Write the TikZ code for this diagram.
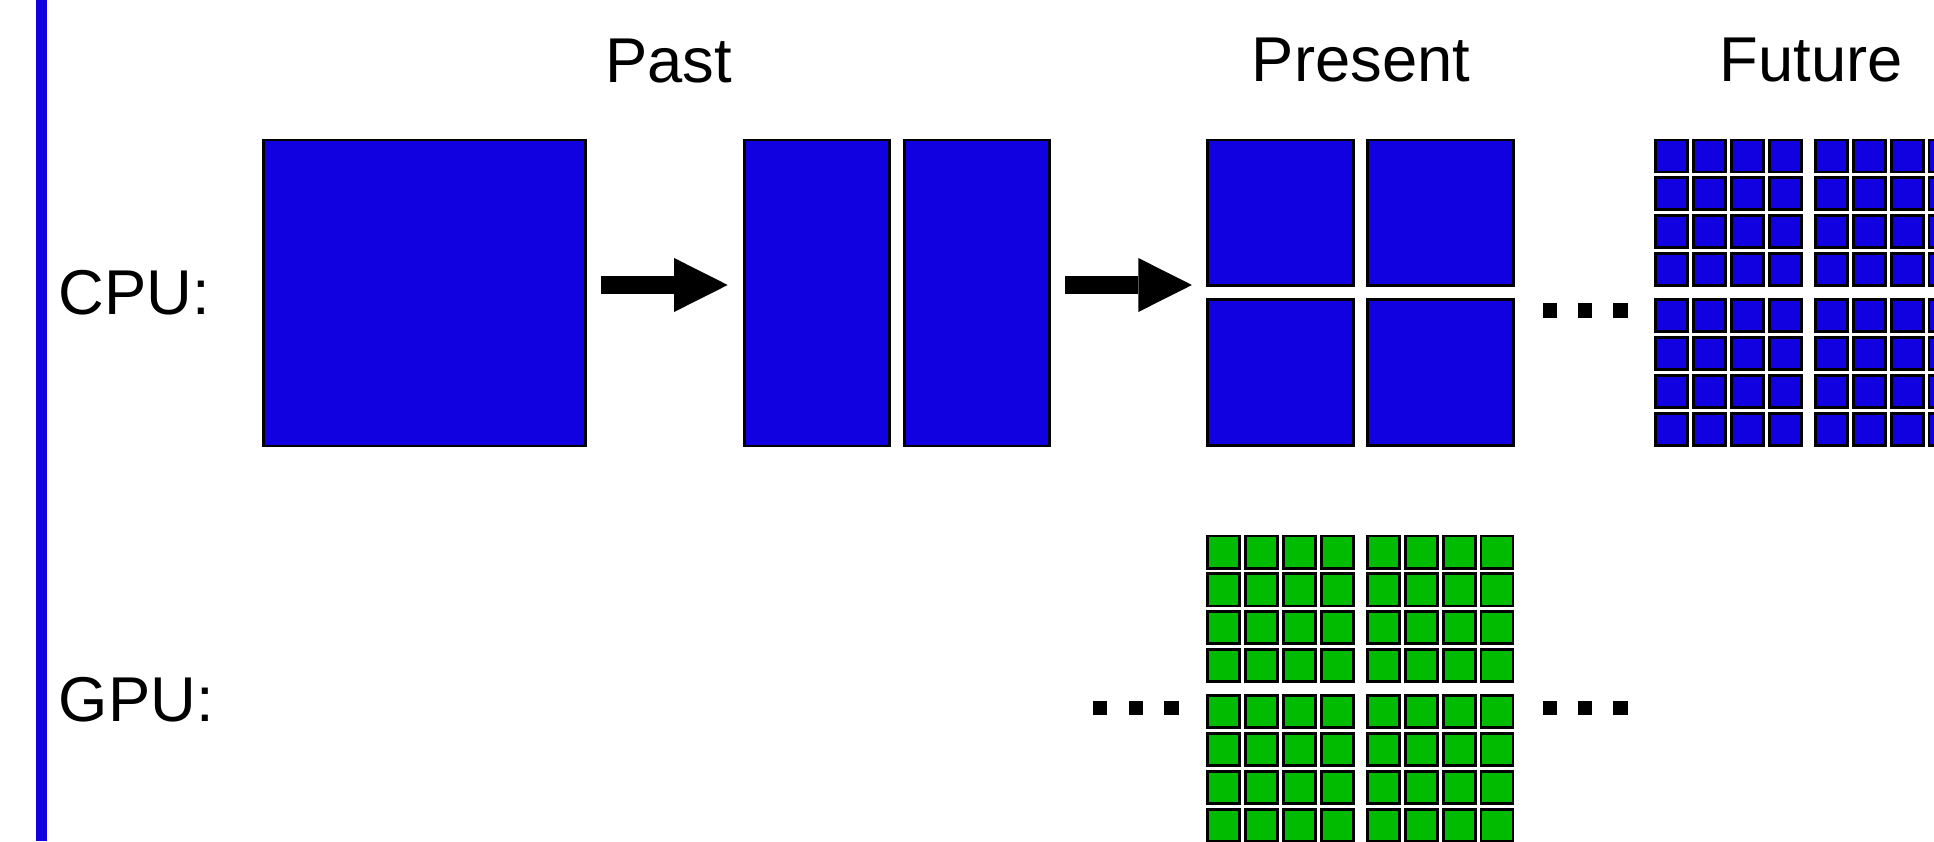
\documentclass[tikz,border=0pt]{standalone}
\usepackage{fontspec}
\setmainfont{Liberation Sans}
\usetikzlibrary{arrows.meta}
\definecolor{cpublue}{RGB}{17,0,224}
\definecolor{gpugreen}{RGB}{0,187,0}
\tikzset{
  core/.style={draw=black, line width=0.65pt, inner sep=0pt, outer sep=0pt, anchor=north west},
  cpucore/.style={core, fill=cpublue},
  gpucore/.style={core, fill=gpugreen},
  lbl/.style={font=\fontsize{14.6}{17}\selectfont, inner sep=0pt, anchor=base},
  dotsq/.style={fill=black, inner sep=0pt, outer sep=0pt, minimum size=0.115cm, anchor=north west},
  blockarrow/.style={line width=0.146cm, -{Triangle[length=4.34mm, width=4.37mm, line width=0pt]}},
}
\begin{document}
\begin{tikzpicture}[x=0.01cm, y=-0.01cm]
\useasboundingbox (0,0) rectangle (1568,682);
% left accent bar
\fill[cpublue] (29,0) rectangle (38,682);
% labels
\node[lbl] (past) at (542,66.5) {Past};
\node[lbl] (present) at (1103.5,66) {Present};
\node[lbl] (future) at (1468.6,66) {Future};
\node[lbl, anchor=base west] (cpu) at (47,255) {CPU:};
\node[lbl, anchor=base west] (gpu) at (47,585) {GPU:};
% single core
\node[cpucore, minimum width=2.61cm, minimum height=2.48cm] (single) at (213.7,113.5) {};
% dual core
\node[cpucore, minimum width=1.175cm, minimum height=2.48cm] (dualA) at (603.3,113.5) {};
\node[cpucore, minimum width=1.175cm, minimum height=2.48cm] (dualB) at (733,113.5) {};
% quad core
\node[cpucore, minimum size=1.18cm] (quadA) at (979.2,113.5) {};
\node[cpucore, minimum size=1.18cm] (quadB) at (1108.7,113.5) {};
\node[cpucore, minimum size=1.18cm] (quadC) at (979.2,243) {};
\node[cpucore, minimum size=1.18cm] (quadD) at (1108.7,243) {};
% arrows
\draw[blockarrow, shorten <=0.12cm, shorten >=0.133cm] ([yshift=0.065cm]single.east) -- ([yshift=0.065cm]dualA.west);
\draw[blockarrow, shorten <=0.131cm, shorten >=0.128cm] ([yshift=0.065cm]dualB.east) -- ([yshift=0.065cm]dualB.east -| quadA.west);
% future many-core grid
\foreach \qx in {0,1}{\foreach \qy in {0,1}{\foreach \i in {0,...,3}{\foreach \j in {0,...,3}{
  \node[cpucore, minimum size=0.26cm] (f-\qx\qy\i\j) at ({1342.4+\qx*129.5+\i*30.67},{113.5+\qy*129.5+\j*30.67}) {};
}}}}
% GPU grid
\foreach \qx in {0,1}{\foreach \qy in {0,1}{\foreach \i in {0,...,3}{\foreach \j in {0,...,3}{
  \node[gpucore, minimum size=0.26cm] (g-\qx\qy\i\j) at ({979.2+\qx*129.5+\i*30.67},{434.6+\qy*129.5+\j*30.67}) {};
}}}}
% ellipses
\node[dotsq] (cd1) at (1251,246) {};
\node[dotsq] (cd2) at (1279.5,246) {};
\node[dotsq] (cd3) at (1308,246) {};
\node[dotsq] (gl1) at (886,568) {};
\node[dotsq] (gl2) at (915,568) {};
\node[dotsq] (gl3) at (944,568) {};
\node[dotsq] (gr1) at (1251,568) {};
\node[dotsq] (gr2) at (1279.5,568) {};
\node[dotsq] (gr3) at (1308,568) {};
\end{tikzpicture}
\end{document}
